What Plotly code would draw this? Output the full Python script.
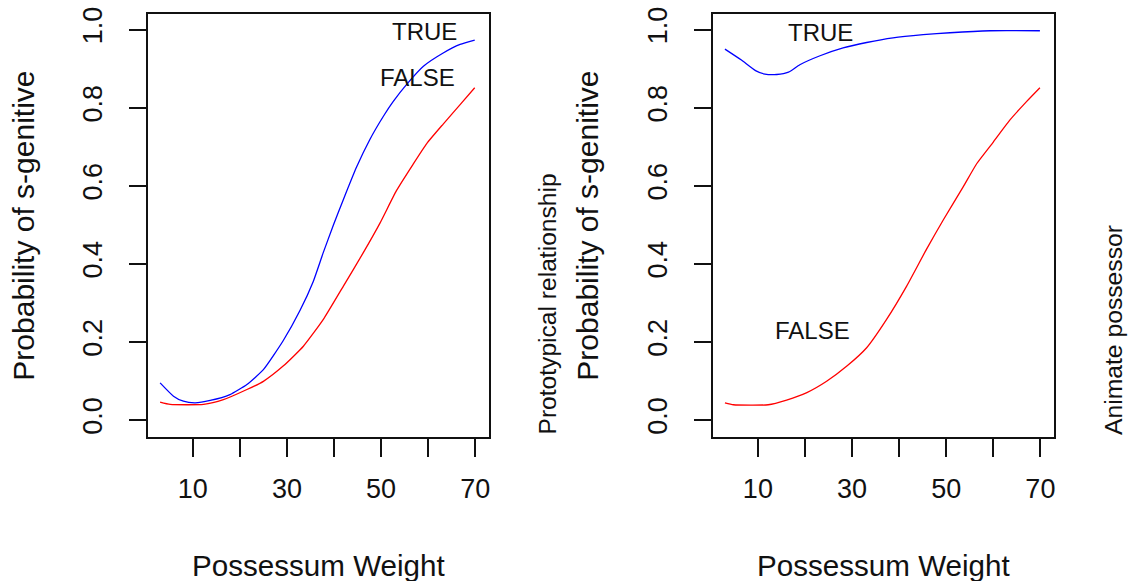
import plotly.graph_objects as go

# Predicted probability of the s-genitive by possessum weight
# Left panel: split by prototypical relationship
proto_true_x = [3.06, 5.9, 8.0, 10.5, 13.7, 17.9, 21.5, 25.0, 29.2, 32.8, 35.6, 37.7, 39.9,
                42.0, 44.8, 47.6, 50.5, 52.6, 55.4, 59.0, 63.2, 66.8, 69.9]
proto_true_y = [0.095, 0.061, 0.048, 0.044, 0.050, 0.065, 0.091, 0.129, 0.203, 0.281, 0.355,
                0.428, 0.500, 0.565, 0.648, 0.718, 0.778, 0.816, 0.859, 0.906, 0.940, 0.962,
                0.973]
proto_false_x = [3.06, 5.2, 12.3, 16.5, 21.5, 25.0, 29.2, 33.5, 37.7, 42.0, 46.2, 49.8, 53.3,
                 56.8, 59.7, 63.2, 66.8, 69.9]
proto_false_y = [0.046, 0.040, 0.040, 0.052, 0.078, 0.099, 0.138, 0.189, 0.257, 0.343, 0.428,
                 0.505, 0.588, 0.655, 0.708, 0.758, 0.808, 0.851]

# Right panel: split by animate possessor
anim_true_x = [3.0, 6.5, 9.5, 11.5, 14.0, 16.5, 18.9, 23.2, 28.1, 33.1, 38.7, 45.1, 50.8,
               59.3, 69.9]
anim_true_y = [0.950, 0.922, 0.895, 0.886, 0.885, 0.891, 0.910, 0.933, 0.953, 0.967, 0.979,
               0.987, 0.992, 0.997, 0.997]
anim_false_x = [3.0, 4.8, 12.2, 16.1, 20.4, 24.6, 28.9, 33.1, 37.3, 41.6, 45.8, 49.4, 53.6,
                56.5, 60.0, 63.5, 67.1, 69.9]
anim_false_y = [0.044, 0.039, 0.039, 0.051, 0.070, 0.099, 0.138, 0.185, 0.257, 0.343, 0.437,
                0.513, 0.597, 0.657, 0.712, 0.768, 0.816, 0.851]

x_ticks = [10, 20, 30, 40, 50, 60, 70]
x_tick_text = ["10", "", "30", "", "50", "", "70"]
y_ticks = [0.0, 0.2, 0.4, 0.6, 0.8, 1.0]
y_tick_text = ["0.0", "0.2", "0.4", "0.6", "0.8", "1.0"]

x_title = "Possessum Weight"
y_title = "Probability of s-genitive"
left_side = "Prototypical relationship"
right_side = "Animate possessor"

FONT = "Liberation Sans, Arial, sans-serif"
BLUE = "#0000FF"
RED = "#FF0000"
INK = "#111111"

fig = go.Figure()


def curve(x, y, color, xa, ya):
    return go.Scatter(x=x, y=y, mode="lines",
                      line=dict(color=color, width=1.3, shape="spline", smoothing=0.5),
                      xaxis=xa, yaxis=ya, hoverinfo="skip")


fig.add_trace(curve(proto_true_x, proto_true_y, BLUE, "x", "y"))
fig.add_trace(curve(proto_false_x, proto_false_y, RED, "x", "y"))
fig.add_trace(curve(anim_true_x, anim_true_y, BLUE, "x2", "y2"))
fig.add_trace(curve(anim_false_x, anim_false_y, RED, "x2", "y2"))

W, H = 1131, 581
y_dom = [1 - 437 / H, 1 - 14.3 / H]


def xaxis(dom, anchor):
    return dict(domain=dom, anchor=anchor, range=[0.38, 72.85], automargin=False,
                tickvals=x_ticks, ticktext=x_tick_text,
                ticks="outside", ticklen=18, tickwidth=1.6, tickcolor=INK,
                showline=True, linecolor=INK, linewidth=1.6, mirror=True,
                showgrid=False, zeroline=False,
                tickfont=dict(family=FONT, size=27, color=INK),
                ticklabelstandoff=9)


def yaxis(anchor):
    return dict(domain=y_dom, anchor=anchor, range=[-0.0436, 1.0392], automargin=False,
                tickvals=y_ticks, ticktext=y_tick_text,
                ticks="outside", ticklen=17, tickwidth=1.6, tickcolor=INK,
                showline=True, linecolor=INK, linewidth=1.6, mirror=True,
                showgrid=False, zeroline=False, tickangle=-90,
                tickfont=dict(family=FONT, size=27, color=INK),
                ticklabelstandoff=16)


fig.update_layout(
    width=W, height=H,
    margin=dict(l=0, r=0, t=0, b=0, pad=0, autoexpand=False),
    paper_bgcolor="white", plot_bgcolor="white",
    showlegend=False,
    xaxis=xaxis([147.5 / W, 488.6 / W], "y"),
    yaxis=yaxis("x"),
    xaxis2=xaxis([712.6 / W, 1053.8 / W], "y2"),
    yaxis2=yaxis("x2"),
)

ann = []
# curve labels
for xr, yr, x, y, t in [("x", "y", 59.3, 0.995, "TRUE"), ("x", "y", 57.7, 0.877, "FALSE"),
                        ("x2", "y2", 23.3, 0.993, "TRUE"), ("x2", "y2", 21.7, 0.2285, "FALSE")]:
    ann.append(dict(x=x, y=y, xref=xr, yref=yr, text=t, showarrow=False,
                    xanchor="center", yanchor="middle",
                    font=dict(family=FONT, size=24, color=INK)))

# axis titles
for cx in [318 / W, 883.2 / W]:
    ann.append(dict(x=cx, y=1 - 565 / H, xref="paper", yref="paper", text=x_title,
                    showarrow=False, xanchor="center", yanchor="middle",
                    font=dict(family=FONT, size=29.6, color=INK)))
for cx in [24 / W, 588 / W]:
    ann.append(dict(x=cx, y=(y_dom[0] + y_dom[1]) / 2, xref="paper", yref="paper",
                    text=y_title, textangle=-90, showarrow=False,
                    xanchor="center", yanchor="middle",
                    font=dict(family=FONT, size=30, color=INK)))

# side labels for the grouping variables
ann.append(dict(x=547 / W, y=1 - 437 / H, xref="paper", yref="paper", text=left_side,
                textangle=-90, showarrow=False, xanchor="center", yanchor="bottom",
                font=dict(family=FONT, size=24.6, color=INK)))
ann.append(dict(x=1113 / W, y=1 - 437 / H, xref="paper", yref="paper", text=right_side,
                textangle=-90, showarrow=False, xanchor="center", yanchor="bottom",
                font=dict(family=FONT, size=24.7, color=INK)))

fig.update_layout(annotations=ann)

fig.write_html("out.html")
